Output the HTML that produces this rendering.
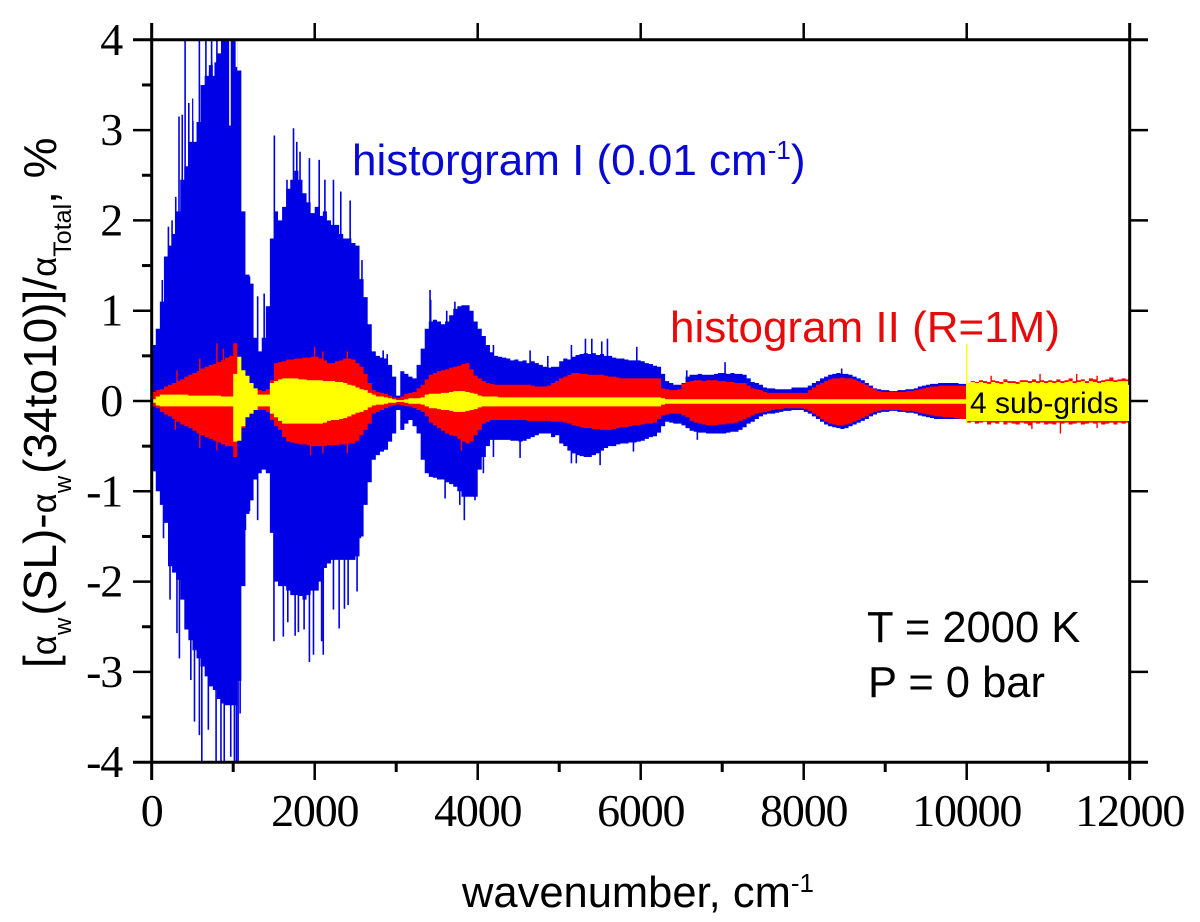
<!DOCTYPE html>
<html lang="en">
<head>
<meta charset="utf-8">
<title>Histogram difference chart</title>
<style>
html,body{margin:0;padding:0;background:#fff;width:1200px;height:922px;overflow:hidden}
svg{display:block}
text{font-family:"Liberation Sans",sans-serif}
.serif{font-family:"Liberation Serif",serif}
</style>
</head>
<body>
<svg id="chart" xmlns="http://www.w3.org/2000/svg" width="1200" height="922" viewBox="0 0 1200 922">
<defs><clipPath id="plot-clip"><rect x="152" y="40" width="978" height="722"/></clipPath></defs>
<rect width="1200" height="922" fill="#fff"/>
<g id="marks" clip-path="url(#plot-clip)"></g>
<g id="axes"></g>
<text x="352" y="175" font-size="44" fill="#0808d4">historgram I (0.01 cm<tspan font-size="26" dy="-16">-1</tspan><tspan dy="16">)</tspan></text>
<text x="670" y="342" font-size="44" fill="#e60a0a">histogram II (R=1M)</text>
<rect x="967" y="385" width="162" height="36" fill="#ffff00"/>
<text x="970" y="413" font-size="30" fill="#000">4 sub-grids</text>
<text x="867" y="642" font-size="43.5" fill="#000">T = 2000 K</text>
<text x="868" y="697" font-size="43.5" fill="#000">P = 0 bar</text>
<text x="462" y="907" font-size="43.5" fill="#000">wavenumber, cm<tspan font-size="26" dy="-15">-1</tspan></text>
<text transform="translate(56,668) rotate(-90)" font-size="46" fill="#000">[<tspan font-size="35">α</tspan><tspan font-size="24" dy="15">w</tspan><tspan dy="-15" dx="2">(SL)-</tspan><tspan font-size="35">α</tspan><tspan font-size="24" dy="15">w</tspan><tspan dy="-15" dx="2">(34to10)]/</tspan><tspan font-size="35">α</tspan><tspan font-size="25" dy="15">Total</tspan><tspan dy="-15">, %</tspan></text>
</svg>
<script>
// Bin width of all envelope arrays, cm-1 (each row below spans 1000 cm-1)
const binWidth = 50;
const xTicks = [0, 2000, 4000, 6000, 8000, 10000, 12000];
const xMinorTicks = [1000, 3000, 5000, 7000, 9000, 11000];
const yTicks = [4, 3, 2, 1, 0, -1, -2, -3, -4];
const yMinorTicks = [3.5, 2.5, 1.5, 0.5, -0.5, -1.5, -2.5, -3.5];

const blueTop = [
.62,.8,1.1,1.6,1.72,1.85,2.1,2.45,2.6,2.87,2.87,3.09,3.5,3.6,3.72,3.75,3.85,4,4,4,
4,3.66,2.1,1.4,1.3,.7,.55,.7,1.05,1.8,2.1,2.0,2.15,2.35,2.45,2.55,2.45,2.3,2.2,2.08,
2.15,2.05,2.1,2.0,1.95,1.95,1.85,1.8,1.8,1.75,1.72,1.35,1.15,.85,.55,.5,.48,.47,.4,.27,
.06,.33,.3,.27,.25,.4,.58,.8,.88,.9,.88,.85,.88,.95,1.02,1.05,1.06,1.06,1.0,.88,
.8,.72,.62,.54,.5,.49,.48,.47,.45,.46,.44,.45,.42,.44,.42,.4,.38,.37,.38,.38,
.44,.47,.46,.49,.51,.52,.53,.52,.53,.51,.52,.5,.5,.48,.47,.47,.46,.45,.45,.45,
.44,.42,.41,.39,.38,.3,.22,.2,.18,.18,.2,.27,.29,.29,.3,.29,.29,.29,.3,.31,
.31,.3,.31,.3,.3,.29,.25,.21,.2,.18,.15,.14,.14,.13,.13,.13,.13,.15,.15,.15,
.15,.17,.2,.22,.25,.27,.29,.3,.31,.3,.3,.29,.27,.25,.23,.2,.17,.14,.13,.12,
.12,.11,.11,.12,.12,.13,.13,.14,.16,.17,.18,.19,.19,.2,.2,.2,.2,.2,.19,.19];

const blueBottom = [
-.78,-1.0,-1.15,-1.35,-1.83,-1.9,-1.98,-2.2,-2.53,-2.65,-2.76,-2.85,-2.94,-3.05,-3.16,-3.2,-3.3,-3.35,-3.37,-3.37,
-3.37,-3.1,-2.05,-1.25,-1.1,-.87,-.8,-.76,-.8,-1.46,-2.0,-2.05,-2.05,-2.1,-2.15,-2.15,-2.16,-2.2,-2.15,-2.1,
-2.1,-2.0,-1.85,-1.8,-1.76,-1.76,-1.76,-1.76,-1.76,-1.76,-1.72,-1.5,-1.15,-.9,-.65,-.6,-.56,-.54,-.45,-.36,
-.1,-.32,-.25,-.21,-.28,-.36,-.65,-.8,-.84,-.85,-.87,-.87,-.9,-.92,-.95,-1.0,-1.06,-1.06,-1.06,-1.06,
-.76,-.62,-.5,-.43,-.43,-.43,-.43,-.43,-.44,-.44,-.45,-.44,-.42,-.4,-.38,-.36,-.36,-.36,-.4,-.38,
-.47,-.5,-.55,-.58,-.6,-.61,-.62,-.62,-.6,-.58,-.55,-.52,-.5,-.5,-.48,-.47,-.47,-.46,-.46,-.45,
-.44,-.42,-.4,-.39,-.35,-.28,-.23,-.24,-.25,-.25,-.27,-.3,-.33,-.34,-.35,-.35,-.36,-.36,-.36,-.36,
-.36,-.35,-.34,-.34,-.32,-.29,-.25,-.23,-.2,-.17,-.15,-.14,-.14,-.13,-.12,-.11,-.11,-.1,-.1,-.1,
-.12,-.14,-.17,-.2,-.23,-.26,-.28,-.29,-.3,-.31,-.3,-.28,-.26,-.24,-.22,-.2,-.17,-.15,-.13,-.12,
-.12,-.11,-.11,-.12,-.12,-.13,-.13,-.14,-.16,-.17,-.18,-.19,-.2,-.2,-.2,-.2,-.2,-.2,-.19,-.19];

const redTop = [
.1,.12,.13,.16,.18,.2,.22,.24,.27,.29,.31,.33,.36,.38,.4,.41,.43,.45,.48,.5,
.64,.3,.26,.2,.14,.12,.12,.11,.13,.23,.42,.43,.44,.46,.46,.47,.47,.48,.48,.49,
.49,.47,.45,.42,.42,.44,.45,.47,.47,.46,.42,.38,.3,.2,.12,.1,.09,.08,.06,.04,
.03,.05,.08,.09,.1,.14,.18,.24,.29,.31,.33,.34,.35,.37,.38,.39,.41,.42,.35,.28,
.25,.22,.2,.19,.18,.18,.18,.18,.18,.18,.18,.18,.18,.17,.16,.16,.16,.17,.2,.22,
.25,.27,.29,.31,.31,.3,.3,.29,.29,.29,.29,.28,.27,.27,.26,.25,.25,.25,.25,.25,
.25,.25,.25,.25,.25,.14,.13,.12,.12,.13,.19,.21,.22,.23,.23,.22,.23,.23,.23,.22,
.22,.21,.21,.2,.2,.2,.17,.14,.13,.12,.1,.09,.09,.09,.09,.09,.09,.09,.09,.09,
.09,.12,.15,.18,.2,.22,.24,.25,.25,.26,.25,.25,.24,.22,.2,.18,.15,.13,.11,.1,
.1,.1,.1,.1,.1,.11,.11,.12,.13,.14,.15,.16,.16,.17,.17,.17,.17,.17,.17,.17,
.2,.22,.21,.23,.22,.21,.23,.22,.21,.24,.22,.22,.21,.23,.23,.22,.24,.22,.23,.22,
.23,.22,.24,.22,.23,.25,.22,.23,.24,.22,.25,.24,.22,.23,.24,.26,.23,.24,.25,.24];

const redBottom = [
-.06,-.08,-.12,-.15,-.17,-.2,-.23,-.26,-.28,-.3,-.33,-.36,-.38,-.4,-.42,-.44,-.46,-.48,-.5,-.5,
-.62,-.4,-.3,-.17,-.14,-.1,-.1,-.1,-.12,-.21,-.28,-.32,-.4,-.45,-.46,-.47,-.48,-.48,-.49,-.5,
-.5,-.5,-.5,-.49,-.49,-.49,-.48,-.48,-.47,-.47,-.44,-.38,-.32,-.25,-.14,-.12,-.1,-.08,-.06,-.05,
-.04,-.05,-.06,-.06,-.08,-.1,-.12,-.17,-.24,-.27,-.3,-.33,-.36,-.38,-.39,-.42,-.45,-.47,-.45,-.38,
-.32,-.25,-.23,-.21,-.21,-.21,-.21,-.21,-.21,-.21,-.21,-.21,-.22,-.22,-.22,-.22,-.22,-.22,-.23,-.23,
-.23,-.24,-.25,-.27,-.28,-.29,-.3,-.3,-.31,-.31,-.32,-.32,-.32,-.31,-.3,-.29,-.29,-.28,-.27,-.27,
-.26,-.25,-.25,-.24,-.2,-.16,-.15,-.14,-.14,-.14,-.16,-.18,-.22,-.24,-.25,-.26,-.27,-.27,-.27,-.26,
-.26,-.25,-.25,-.24,-.22,-.2,-.18,-.16,-.14,-.13,-.12,-.11,-.1,-.09,-.09,-.08,-.08,-.08,-.08,-.08,
-.09,-.11,-.14,-.17,-.2,-.23,-.25,-.26,-.27,-.27,-.26,-.25,-.23,-.21,-.19,-.17,-.14,-.12,-.11,-.1,
-.1,-.1,-.1,-.1,-.11,-.11,-.11,-.12,-.13,-.14,-.15,-.16,-.17,-.17,-.18,-.18,-.18,-.19,-.2,-.2,
-.24,-.23,-.25,-.24,-.23,-.26,-.24,-.25,-.23,-.26,-.24,-.25,-.26,-.24,-.25,-.27,-.24,-.25,-.24,-.26,
-.25,-.26,-.24,-.25,-.24,-.26,-.25,-.24,-.26,-.25,-.24,-.25,-.24,-.26,-.25,-.24,-.26,-.24,-.25,-.24];

const yellowTop = [
.02,.05,.07,.07,.07,.07,.07,.07,.07,.06,.06,.06,.06,.06,.06,.06,.06,.05,.05,.05,
.3,.49,.34,.28,.2,.14,.07,.07,.07,.2,.22,.24,.25,.25,.25,.25,.24,.24,.23,.23,
.23,.23,.22,.22,.22,.21,.21,.2,.18,.17,.15,.13,.12,.09,.07,.05,.05,.04,.03,.02,
.01,.01,.02,.03,.03,.03,.04,.07,.08,.08,.08,.09,.09,.1,.11,.11,.11,.1,.09,.08,
.06,.05,.05,.05,.05,.04,.04,.04,.04,.04,.04,.04,.04,.04,.04,.04,.04,.04,.04,.04,
.04,.04,.04,.04,.04,.04,.04,.04,.04,.04,.04,.04,.04,.04,.04,.04,.04,.04,.04,.04,
.04,.04,.04,.04,.04,.03,.02,.02,.02,.02,.02,.02,.02,.02,.02,.02,.02,.02,.02,.02,
.02,.02,.02,.02,.02,.02,.02,.02,.02,.02,.02,.02,.02,.02,.02,.02,.02,.02,.02,.02,
.02,.02,.02,.02,.02,.02,.02,.02,.02,.02,.02,.02,.02,.02,.02,.02,.02,.02,.02,.02,
.02,.02,.02,.02,.02,.02,.02,.02,.02,.02,.02,.02,.02,.02,.02,.02,.02,.02,.02,.02,
.2,.21,.2,.21,.2,.19,.21,.2,.19,.21,.2,.2,.19,.21,.21,.2,.21,.2,.21,.2,
.21,.2,.21,.2,.21,.22,.2,.21,.22,.2,.22,.21,.2,.21,.22,.22,.21,.22,.22,.22];

const yellowBottom = [
-.02,-.05,-.06,-.06,-.06,-.06,-.06,-.06,-.06,-.06,-.06,-.06,-.06,-.06,-.06,-.06,-.06,-.06,-.06,-.06,
-.45,-.44,-.28,-.18,-.14,-.1,-.06,-.06,-.06,-.14,-.18,-.22,-.25,-.25,-.25,-.25,-.25,-.25,-.25,-.25,
-.25,-.25,-.24,-.22,-.21,-.21,-.2,-.19,-.17,-.15,-.13,-.12,-.1,-.07,-.05,-.04,-.04,-.03,-.02,-.02,
-.01,-.01,-.02,-.03,-.03,-.03,-.04,-.06,-.08,-.08,-.09,-.1,-.1,-.11,-.12,-.12,-.12,-.11,-.1,-.09,
-.07,-.06,-.06,-.06,-.06,-.06,-.06,-.06,-.06,-.06,-.06,-.06,-.06,-.06,-.06,-.06,-.06,-.06,-.06,-.06,
-.06,-.06,-.06,-.06,-.06,-.06,-.06,-.06,-.06,-.06,-.06,-.06,-.06,-.06,-.06,-.06,-.06,-.06,-.06,-.06,
-.06,-.06,-.06,-.06,-.06,-.04,-.03,-.03,-.03,-.03,-.03,-.03,-.03,-.03,-.03,-.03,-.03,-.03,-.03,-.03,
-.03,-.03,-.03,-.03,-.03,-.03,-.03,-.03,-.03,-.03,-.03,-.03,-.03,-.03,-.03,-.03,-.03,-.03,-.03,-.03,
-.03,-.03,-.03,-.03,-.03,-.03,-.03,-.03,-.03,-.03,-.03,-.03,-.03,-.03,-.03,-.03,-.03,-.03,-.03,-.03,
-.03,-.03,-.03,-.03,-.03,-.03,-.03,-.03,-.03,-.03,-.03,-.03,-.03,-.03,-.03,-.03,-.03,-.03,-.03,-.03,
-.21,-.2,-.22,-.21,-.2,-.22,-.21,-.22,-.2,-.22,-.21,-.22,-.22,-.21,-.22,-.22,-.21,-.22,-.21,-.22,
-.22,-.22,-.21,-.22,-.21,-.22,-.22,-.21,-.22,-.22,-.21,-.22,-.21,-.22,-.22,-.21,-.22,-.21,-.22,-.21];

// Isolated narrow peaks of histogram I
const blueUpSpikeWavenumbers = [130,205,250,295,335,375,410,455,505,585,665,735,800,980,1200,1300,1380,1505,1660,1740,1780,1820,1935,2055,2125,2230,2320,2435,2580,2840,2890,3415,3423,3620,3720,4193,4643,4860,5150,5322,5400,5522,5592,5952,6565,7035,8466];
const blueUpSpikeValues = [1.34,1.93,2.0,2.26,3.15,3.17,4,3.3,3.35,4,4,4,4,4,1.38,1.16,1.19,2.94,2.45,3.02,2.87,2.76,2.69,2.67,2.45,2.45,2.32,2.22,1.56,.56,.52,1.23,1.12,1.0,1.1,.62,.56,.5,.62,.69,.69,.66,.69,.6,.34,.43,.36];
const blueDownSpikeWavenumbers = [145,225,310,340,480,525,585,615,695,790,850,890,970,1015,1040,1060,1085,1150,1200,1300,1500,1615,1670,1760,1800,1870,1935,1985,2085,2105,2230,2300,2365,2410,2520,2560,3600,3780,3836,3967,4070,4193,4520,5150,5210,5502,5911,6695];
const blueDownSpikeValues = [-1.52,-2.2,-2.57,-2.85,-3.09,-3.55,-3.7,-4,-3.64,-4,-4,-4,-3.94,-4,-4,-4,-3.46,-1.43,-1.22,-1.32,-2.66,-2.61,-2.45,-2.6,-2.56,-2.53,-2.89,-2.81,-2.66,-2.81,-2.31,-2.52,-2.3,-2.26,-2.11,-1.52,-1.08,-1.15,-1.32,-1.1,-.8,-.62,-.63,-.69,-.69,-.71,-.56,-.43];
// Narrow gaps in the histogram I envelope (value = lower edge of the white gap)
const blueGapWavenumbers = [520,545,690,760,960,1040];
const blueGapValues = [3.1,3.2,3.65,3.6,3.05,3.7];
// Narrow peaks of histogram II
const redSpikeWavenumbers = [310,590,800,880,2000,2100,2400,10300,10900,11350,11600];
const redSpikeValues = [.34,.47,.64,.58,.6,.55,.55,.28,.3,.3,.28];
const redDownSpikeWavenumbers = [290,590,800,1950,2100,2400,3800,10800,11150,11600];
const redDownSpikeValues = [-.32,-.52,-.55,-.6,-.58,-.58,-.55,-.31,-.36,-.3];
// Narrow yellow peak at the start of the 4 sub-grid range
const yellowSpikeWavenumbers = [10000];
const yellowSpikeTop = [.63];
const yellowSpikeBottom = [-.25];

const svgNS = 'http://www.w3.org/2000/svg';
const xScale = v => 151.7 + v * 0.0815;
const yScale = v => 401 - v * 90.3;

function stepPath(top, bottom) {
  let d = '';
  for (let i = 0; i < top.length; i++) {
    d += (i ? 'L' : 'M') + xScale(i * binWidth).toFixed(2) + ' ' + yScale(top[i]).toFixed(2);
    d += 'L' + xScale((i + 1) * binWidth).toFixed(2) + ' ' + yScale(top[i]).toFixed(2);
  }
  for (let i = bottom.length - 1; i >= 0; i--) {
    d += 'L' + xScale((i + 1) * binWidth).toFixed(2) + ' ' + yScale(bottom[i]).toFixed(2);
    d += 'L' + xScale(i * binWidth).toFixed(2) + ' ' + yScale(bottom[i]).toFixed(2);
  }
  return d + 'Z';
}

const marks = document.getElementById('marks');
const axes = document.getElementById('axes');

function addBand(top, bottom, fill) {
  const p = document.createElementNS(svgNS, 'path');
  p.setAttribute('d', stepPath(top, bottom));
  p.setAttribute('fill', fill);
  marks.appendChild(p);
  return p;
}
function addSpike(parent, wn, v0, v1, color, width) {
  const l = document.createElementNS(svgNS, 'line');
  l.setAttribute('x1', xScale(wn));
  l.setAttribute('x2', xScale(wn));
  l.setAttribute('y1', yScale(v0));
  l.setAttribute('y2', yScale(v1));
  l.setAttribute('stroke', color);
  l.setAttribute('stroke-width', width);
  parent.appendChild(l);
  return l;
}

const blueBand = addBand(blueTop, blueBottom, '#0000e6');


blueUpSpikeWavenumbers.forEach((wn, i) => {
  const s = addSpike(marks, wn, 0, blueUpSpikeValues[i], '#0000e6', 1.6);
  
  
});
blueDownSpikeWavenumbers.forEach((wn, i) => {
  const s = addSpike(marks, wn, 0, blueDownSpikeValues[i], '#0000e6', 1.6);
  
  
});
blueGapWavenumbers.forEach((wn, i) => {
  const s = addSpike(marks, wn, 4, blueGapValues[i], '#ffffff', 1.6);
  
  
});

const redBand = addBand(redTop, redBottom, '#ff0000');


redSpikeWavenumbers.forEach((wn, i) => {
  const s = addSpike(marks, wn, 0, redSpikeValues[i], '#ff0000', 1.4);
  
  
});
redDownSpikeWavenumbers.forEach((wn, i) => {
  const s = addSpike(marks, wn, 0, redDownSpikeValues[i], '#ff0000', 1.4);
  
  
});

const yellowBand = addBand(yellowTop, yellowBottom, '#ffff00');


yellowSpikeWavenumbers.forEach((wn, i) => {
  const s = addSpike(marks, wn, yellowSpikeBottom[i], yellowSpikeTop[i], '#ffff00', 1.4);
  
  
});

function axisLine(x1, y1, x2, y2, w) {
  const l = document.createElementNS(svgNS, 'line');
  l.setAttribute('x1', x1);
  l.setAttribute('y1', y1);
  l.setAttribute('x2', x2);
  l.setAttribute('y2', y2);
  l.setAttribute('stroke', '#000');
  l.setAttribute('stroke-width', w);
  axes.appendChild(l);
  return l;
}
function axisText(x, y, str, anchor) {
  const t = document.createElementNS(svgNS, 'text');
  t.setAttribute('x', x);
  t.setAttribute('y', y);
  t.setAttribute('text-anchor', anchor);
  t.setAttribute('font-size', '46');
  t.setAttribute('letter-spacing', '-1.2');
  t.setAttribute('class', 'serif');
  t.textContent = str;
  axes.appendChild(t);
  return t;
}

const frameLeft = axisLine(xScale(0), 23, xScale(0), 780, 3);


const frameRight = axisLine(xScale(12000), 23, xScale(12000), 780, 3);


const frameTop = axisLine(133, yScale(4), 1148, yScale(4), 3);


const frameBottom = axisLine(133, yScale(-4), 1148, yScale(-4), 3);



xTicks.forEach(v => {
  const b = axisLine(xScale(v), 762, xScale(v), 780, 2.5);
  
  
  const t = axisLine(xScale(v), 23, xScale(v), 40, 2.5);
  
  
  const lab = axisText(xScale(v), 826, String(v), 'middle');
  
  
});
xMinorTicks.forEach(v => {
  const b = axisLine(xScale(v), 762, xScale(v), 772, 3);
  
  
});
yTicks.forEach(v => {
  const l = axisLine(133, yScale(v), 152, yScale(v), 2.5);
  
  
  const r = axisLine(1130, yScale(v), 1148, yScale(v), 2.5);
  
  
  const lab = axisText(122, yScale(v) + 15, String(v), 'end');
  
  
});
yMinorTicks.forEach(v => {
  const l = axisLine(142, yScale(v), 152, yScale(v), 3);
  
  
});
</script>
</body>
</html>
